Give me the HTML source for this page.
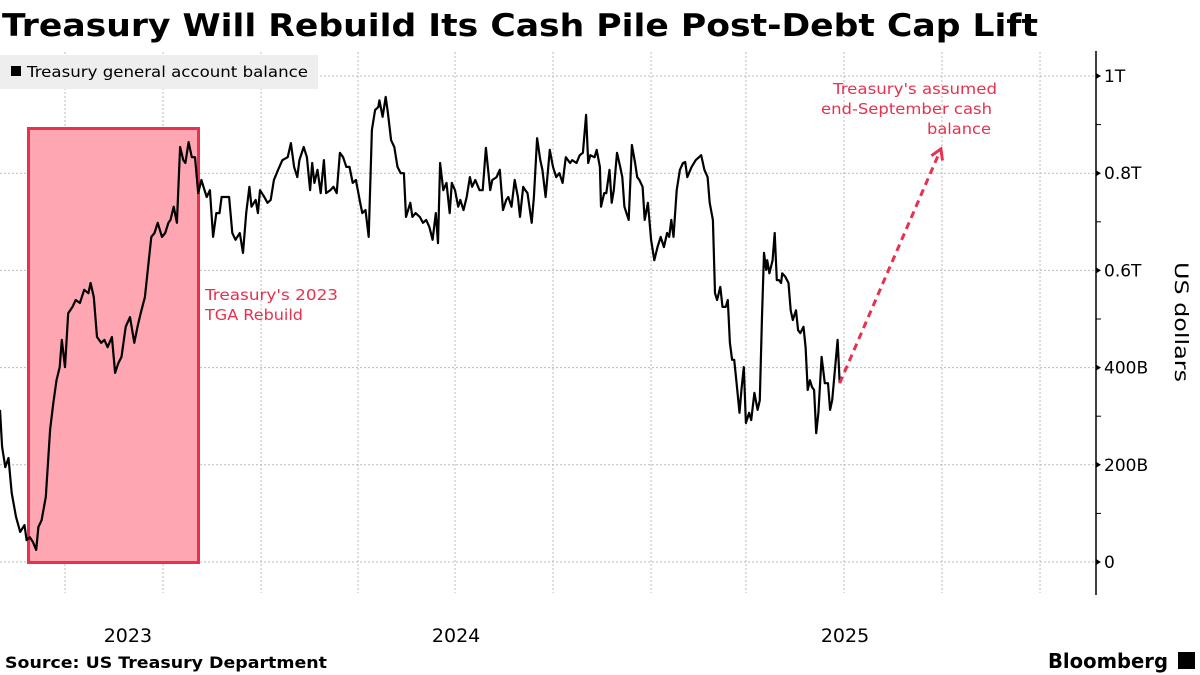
<!DOCTYPE html>
<html><head><meta charset="utf-8">
<style>
html,body{margin:0;padding:0;background:#fff;}
body{width:1200px;height:675px;overflow:hidden;font-family:"DejaVu Sans","Liberation Sans",sans-serif;}
svg{display:block;font-family:"DejaVu Sans","Liberation Sans",sans-serif;}
</style></head>
<body>
<svg width="1200" height="675" xmlns="http://www.w3.org/2000/svg" id="chart">
<text x="2" y="36" font-size="31" font-weight="bold" fill="#000" textLength="1036" lengthAdjust="spacingAndGlyphs">Treasury Will Rebuild Its Cash Pile Post-Debt Cap Lift</text>
<g id="grid"></g>
<rect x="28.5" y="128.5" width="170" height="434" fill="#ffa6b3" stroke="#e8304f" stroke-width="3"/>
<text font-size="15" fill="#e8304f"><tspan x="205" y="300" textLength="133" lengthAdjust="spacingAndGlyphs">Treasury's 2023</tspan><tspan x="205" y="320" textLength="98" lengthAdjust="spacingAndGlyphs">TGA Rebuild</tspan></text>
<text font-size="15" fill="#e8304f"><tspan x="833" y="94" textLength="164" lengthAdjust="spacingAndGlyphs">Treasury's assumed</tspan><tspan x="821" y="114" textLength="171" lengthAdjust="spacingAndGlyphs">end-September cash</tspan><tspan x="927" y="134" textLength="64" lengthAdjust="spacingAndGlyphs">balance</tspan></text>
<g id="marks"></g>
<g id="axis"></g>
<rect x="0" y="55" width="318" height="34" fill="#eeeeee"/>
<rect x="11" y="66" width="10" height="10" fill="#000"/>
<text x="27" y="77" font-size="15" fill="#000" textLength="281" lengthAdjust="spacingAndGlyphs">Treasury general account balance</text>
<text x="1175" y="322" font-size="19" fill="#000" text-anchor="middle" textLength="120" lengthAdjust="spacingAndGlyphs" transform="rotate(90 1175 322)">US dollars</text>
<text x="5" y="668" font-size="16" font-weight="bold" fill="#000" textLength="322" lengthAdjust="spacingAndGlyphs">Source: US Treasury Department</text>
<text x="1048" y="668" font-size="20" font-weight="bold" fill="#000" textLength="120" lengthAdjust="spacingAndGlyphs">Bloomberg</text>
<rect x="1178" y="652" width="17" height="17" fill="#000"/>
</svg>
<script>
// days since 2023-05-01
const days=[0,2,5,8,11,15,19,23,25,28,31,34,36,39,43,47,50,53,56,58,61,64,68,71,75,79,83,85,88,91,95,98,101,105,108,111,114,118,122,126,129,132,136,139,142,145,148,152,155,158,160,163,166,169,172,174,177,180,183,186,189,191,194,197,200,203,206,208,212,215,218,221,225,228,231,234,236,240,242,244,248,251,254,257,261,265,270,273,276,279,281,285,288,291,293,295,298,301,304,306,310,313,316,319,322,325,328,331,334,338,340,343,346,349,352,355,356,359,362,364,367,370,373,376,379,381,385,387,390,394,397,400,403,406,409,411,413,416,419,422,424,427,430,432,435,438,441,443,446,450,453,456,460,462,466,469,472,475,477,480,483,486,488,491,493,495,499,501,504,507,509,512,516,519,522,525,528,531,535,537,541,544,547,550,552,554,558,560,563,564,567,569,572,574,576,579,582,584,586,590,593,596,598,600,603,605,608,611,614,617,620,623,626,628,630,632,635,638,641,643,645,649,653,656,658,661,664,666,669,671,673,676,678,681,683,685,687,689,691,694,696,698,700,703,705,708,711,713,715,717,719,720,722,725,727,729,731,733,734,737,740,742,744,747,749,751,754,756,758,760,762,764,766,768,771,774,777,779,781,786,788];
// balance, billions USD
const balance=[313,237,195,214,142,93,62,76,45,51,41,25,72,86,134,272,327,374,401,457,401,512,525,539,533,560,553,574,545,463,451,457,442,463,389,409,422,484,504,451,484,512,545,607,669,677,698,669,677,698,704,731,698,854,827,821,864,833,833,759,786,772,751,765,669,718,718,751,751,751,677,663,677,636,718,772,731,745,718,765,751,739,745,786,807,827,833,862,813,792,827,854,833,765,821,780,807,759,827,759,765,772,759,842,833,813,813,780,786,739,718,724,669,889,930,936,950,916,957,924,868,854,813,800,800,710,739,710,718,710,698,704,689,663,718,656,821,765,780,718,780,765,731,745,724,751,792,772,786,765,765,852,765,786,792,807,724,745,751,731,786,751,710,772,765,759,698,751,872,827,807,751,848,813,792,800,780,833,821,827,821,837,842,920,821,837,833,848,813,731,759,759,807,739,765,842,813,792,731,704,858,821,792,786,772,704,739,663,621,648,669,648,677,669,704,669,765,807,821,823,792,813,827,833,837,807,792,739,704,553,539,566,525,525,539,451,416,416,374,307,360,401,286,307,292,348,313,333,498,636,601,621,594,621,677,580,580,574,594,587,574,518,498,518,477,471,484,442,354,374,360,354,265,307,422,368,368,313,333,457,368];
const projDays=[788,883];
const projValues=[368,850];
const yTicks=[0,200,400,600,800,1000];
const yTickLabels=["0","200B","400B","0.6T","0.8T","1T"];
const xTickDays=[61,153,245,336,427,519,611,700,792,884,976];
const yearLabels=["2023","2024","2025"];
const yearLabelDays=[120,428,793];

const NS="http://www.w3.org/2000/svg";
const xS=d=>d*1.0656;
const yS=v=>562-v*0.486;
function mk(tag,attrs,parent){const e=document.createElementNS(NS,tag);for(const k in attrs)e.setAttribute(k,attrs[k]);parent.appendChild(e);return e;}
const grid=document.getElementById('grid'),marks=document.getElementById('marks'),axis=document.getElementById('axis');
yTicks.forEach((t,i)=>{
  const l=mk('line',{x1:0,x2:1096,y1:yS(t),y2:yS(t),stroke:'#bbb','stroke-width':1,'stroke-dasharray':'2,2'},grid);
  
  
  const tk=mk('path',{d:`M1096 ${yS(t)-3}L1101 ${yS(t)}L1096 ${yS(t)+3}Z`,fill:'#000'},axis);
  
  
  const tx=mk('text',{x:1104,y:yS(t)+6,'font-size':17,fill:'#000'},axis);
  tx.textContent=yTickLabels[i];
  
  
  if(i<yTicks.length-1){
    const mt=mk('line',{x1:1096,x2:1101,y1:yS(t+100),y2:yS(t+100),stroke:'#000','stroke-width':1},axis);
    
    
  }
});
const al=mk('line',{x1:1096,x2:1096,y1:51,y2:595,stroke:'#000','stroke-width':1.5},axis);


xTickDays.forEach(d=>{
  const l=mk('line',{x1:xS(d),x2:xS(d),y1:52,y2:593,stroke:'#bbb','stroke-width':1,'stroke-dasharray':'2,2'},grid);
  
  
});
yearLabels.forEach((s,i)=>{
  const t=mk('text',{x:xS(yearLabelDays[i]),y:642,'font-size':19,fill:'#000','text-anchor':'middle'},grid);
  t.textContent=s;
  
  
});
const pts=days.map((d,i)=>xS(d).toFixed(1)+','+yS(balance[i]).toFixed(1)).join(' ');
const pl=mk('polyline',{points:pts,fill:'none',stroke:'#000','stroke-width':2.2,'stroke-linejoin':'round'},marks);


const x1=xS(projDays[0]),y1=yS(projValues[0]),x2=xS(projDays[1]),y2=yS(projValues[1]);
const ang=Math.atan2(y2-y1,x2-x1);
const pj=mk('line',{x1:x1,y1:y1,x2:x2-6*Math.cos(ang),y2:y2-6*Math.sin(ang),stroke:'#e8304f','stroke-width':3,'stroke-dasharray':'7,5'},marks);


const hl=10,hw=6;
const bx=x2-hl*Math.cos(ang),by=y2-hl*Math.sin(ang);
const ah=mk('polyline',{points:`${bx-hw*Math.sin(ang)},${by+hw*Math.cos(ang)} ${x2},${y2} ${bx+hw*Math.sin(ang)},${by-hw*Math.cos(ang)}`,fill:'none',stroke:'#e8304f','stroke-width':3},marks);


</script>
</body></html>
